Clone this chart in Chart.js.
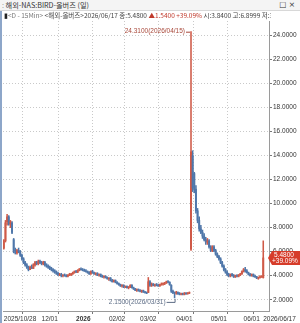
<!DOCTYPE html>
<html><head><meta charset="utf-8">
<script src="https://cdn.jsdelivr.net/npm/chart.js@4.4.1/dist/chart.umd.min.js"></script>
<style>
html,body{margin:0;padding:0;background:#fff;width:300px;height:323px;overflow:hidden;}
#wrap{position:relative;width:300px;height:323px;}
canvas{position:absolute;left:0;top:0;}
.hdr{position:absolute;left:0;white-space:nowrap;overflow:hidden;font-family:"Noto Sans CJK KR","Liberation Sans",sans-serif;color:#333;}
#t1{top:0;height:10px;width:300px;font-size:7.2px;line-height:10px;background:#f4f4f4;border-bottom:1px solid #d8d8d8;}
#t2{top:11px;height:9px;width:271px;font-size:6.5px;line-height:9px;color:#444;}
#lb{position:absolute;left:0;top:11px;width:2px;height:312px;background:#8da6c9;}
</style></head>
<body><div id="wrap">
<canvas id="c" width="300" height="323"></canvas>
<div id="t1" class="hdr"><span style="color:#999;margin-left:2px">:</span> 해외-NAS:BIRD-올버즈 (일)<span style="position:absolute;right:5px;top:0;font-family:'DejaVu Sans';font-size:7.5px">□ ×</span></div>
<div id="lb"></div>
<div id="t2" class="hdr"><span style="margin-left:4px;color:#222">▮</span><span style="color:#777">&lt;D - 15Min&gt;</span> &lt;해외-올버즈&gt;2026/06/17 종:5.4800 <span style="color:#c0392b">▲1.5400 +39.09%</span> 시:3.8400 고:6.8999 저:3.8000</div>
</div>
<script>
// trading-day index 0 = 2025/10/28
const tickIdx = [0, 23, 44, 64, 83, 105, 126, 146, 158];
const tickLabels = ['2025/10/28', '12/01', '2026', '02/02', '03/02', '04/01', '05/01', '06/01', '2026/06/17'];
const yTicks = [2, 4, 6, 8, 10, 12, 14, 16, 18, 20, 22, 24];

const open = [6.3,6.9,8.5,8.9,8.3,8.4,7.0,6.1,5.9,6.1,6.0,5.7,5.4,5.1,4.9,4.7,4.5,4.7,4.6,4.9,
5.1,5.0,5.2,5.1,5.0,5.1,4.9,4.8,4.7,4.6,4.5,4.4,4.3,4.2,4.1,4.1,4.0,4.05,4.0,3.95,
4.05,4.1,4.15,4.25,4.35,4.3,4.45,4.55,4.5,4.45,4.4,4.35,4.25,4.15,4.35,4.25,4.15,4.2,4.05,4.1,
3.95,3.9,3.95,3.85,3.75,3.8,3.6,3.5,3.6,3.45,3.35,3.25,3.15,3.2,3.05,3.1,3.0,3.05,3.2,3.0,
2.9,2.8,2.85,2.75,2.7,2.75,2.65,2.6,2.6,3.5,3.2,3.3,3.2,3.25,3.2,3.15,3.25,3.3,3.35,3.4,
3.5,3.45,3.2,2.7,2.6,2.55,2.6,2.5,2.45,2.5,2.45,2.55,2.5,2.55,6.2,14.0,12.5,11.2,9.4,8.6,
7.9,7.6,7.3,7.0,6.8,6.9,6.4,6.1,6.4,6.1,5.8,5.6,5.4,5.1,4.8,4.5,4.3,4.1,4.0,4.1,
4.0,3.9,4.0,3.95,4.05,4.15,4.35,4.5,4.4,4.25,4.1,4.0,4.1,3.95,3.9,3.8,3.85,3.9,3.84];
const high = [7.0,8.6,9.1,9.0,8.6,8.5,7.1,6.3,6.2,6.3,6.1,5.8,5.5,5.2,5.0,4.8,4.8,4.9,5.0,5.2,
5.2,5.3,5.3,5.2,5.2,5.2,5.0,4.9,4.8,4.7,4.6,4.5,4.4,4.3,4.2,4.2,4.1,4.15,4.1,4.1,
4.2,4.2,4.3,4.4,4.45,4.5,4.6,4.65,4.6,4.55,4.5,4.4,4.35,4.4,4.45,4.3,4.25,4.25,4.15,4.15,
4.05,4.0,4.0,3.9,3.85,3.85,3.7,3.65,3.65,3.5,3.4,3.3,3.25,3.25,3.15,3.15,3.1,3.25,3.25,3.05,
2.95,2.9,2.9,2.85,2.8,2.8,2.7,2.65,3.85,3.6,3.4,3.35,3.3,3.35,3.3,3.3,3.4,3.4,3.45,3.55,
3.6,3.5,3.25,2.8,2.65,2.7,2.65,2.6,2.55,2.55,2.6,2.6,2.6,2.65,24.31,14.4,12.6,11.5,9.6,8.9,
8.2,7.8,7.5,7.2,7.1,7.0,6.5,6.5,6.5,6.2,5.9,5.7,5.5,5.2,4.9,4.6,4.4,4.2,4.15,4.2,
4.1,4.05,4.1,4.1,4.2,4.4,4.6,4.7,4.5,4.3,4.2,4.15,4.15,4.05,3.95,3.9,4.0,4.0,6.8999];
const low = [6.2,6.8,8.2,8.2,8.0,7.5,5.9,5.8,5.8,5.9,5.6,5.3,5.0,4.8,4.6,4.4,4.5,4.6,4.6,4.8,
4.9,4.9,5.0,4.9,4.9,4.8,4.7,4.6,4.5,4.4,4.3,4.2,4.1,4.0,4.0,3.9,3.9,3.95,3.9,3.9,
4.0,4.0,4.1,4.2,4.25,4.25,4.4,4.45,4.4,4.35,4.3,4.2,4.1,4.1,4.2,4.1,4.05,4.0,3.95,3.9,
3.85,3.8,3.8,3.7,3.6,3.55,3.45,3.45,3.4,3.3,3.2,3.1,3.05,3.0,3.0,2.95,2.9,3.0,2.95,2.85,
2.75,2.7,2.7,2.65,2.6,2.6,2.55,2.5,2.6,3.1,3.1,3.15,3.1,3.15,3.1,3.1,3.2,3.2,3.25,3.35,
3.4,3.2,2.6,2.5,2.15,2.45,2.45,2.4,2.4,2.4,2.4,2.45,2.45,2.5,6.1,11.0,10.9,9.2,8.4,7.7,
7.5,7.1,6.9,6.6,6.6,6.3,6.0,6.0,6.0,5.7,5.5,5.3,5.0,4.7,4.4,4.2,4.0,3.9,3.9,3.95,
3.85,3.85,3.9,3.9,4.0,4.1,4.3,4.3,4.2,4.05,3.95,3.95,3.9,3.85,3.75,3.7,3.8,3.85,3.8];
const close = [6.9,8.4,8.9,8.3,8.5,7.6,6.1,5.9,6.1,6.0,5.7,5.4,5.1,4.9,4.7,4.5,4.7,4.6,4.9,5.1,
5.0,5.2,5.1,5.0,5.1,4.9,4.8,4.7,4.6,4.5,4.4,4.3,4.2,4.1,4.1,4.0,4.05,4.0,3.95,4.05,
4.1,4.15,4.25,4.35,4.3,4.45,4.55,4.5,4.45,4.4,4.35,4.25,4.15,4.35,4.25,4.15,4.2,4.05,4.1,3.95,
3.9,3.95,3.85,3.75,3.8,3.6,3.5,3.6,3.45,3.35,3.25,3.15,3.2,3.05,3.1,3.0,3.05,3.2,3.0,2.9,
2.8,2.85,2.75,2.7,2.75,2.65,2.6,2.55,3.5,3.2,3.3,3.2,3.25,3.2,3.15,3.25,3.3,3.35,3.4,3.5,
3.45,3.25,2.7,2.6,2.55,2.6,2.5,2.45,2.5,2.45,2.55,2.5,2.55,2.6,14.3,11.3,11.2,9.4,8.6,7.9,
7.6,7.3,7.0,6.8,6.9,6.4,6.1,6.4,6.1,5.8,5.6,5.4,5.1,4.8,4.5,4.3,4.1,4.0,4.1,4.0,
3.9,4.0,3.95,4.05,4.15,4.35,4.5,4.4,4.25,4.1,4.0,4.1,3.95,3.9,3.8,3.85,3.9,3.94,5.48];

const highNote = {idx: 114, text: '24.3100(2026/04/15)'};
const lowNote = {idx: 104, text: '2.1500(2026/03/31)'};
const lastTag = ['5.4800', '+39.09%'];

const UP = '#cf5a48', DOWN = '#4f77aa';
const idx = close.map((_, i) => i);
const col = idx.map(i => close[i] >= open[i] ? UP : DOWN);

const notes = {
  id: 'notes',
  afterDatasetsDraw(chart) {
    const {ctx, scales: {x, y}} = chart;
    ctx.save();
    ctx.font = '6.5px "Liberation Sans", Arial, sans-serif';
    ctx.textBaseline = 'middle';
    let px = x.getPixelForValue(highNote.idx), py = y.getPixelForValue(high[highNote.idx]);
    ctx.fillStyle = '#a8483a'; ctx.strokeStyle = '#a8483a'; ctx.lineWidth = 1;
    ctx.textAlign = 'right';
    ctx.fillText(highNote.text, px - 6, py);
    ctx.beginPath(); ctx.moveTo(px - 5, py + 0.5); ctx.lineTo(px - 1, py + 0.5); ctx.stroke();
    px = x.getPixelForValue(lowNote.idx); py = y.getPixelForValue(low[lowNote.idx]);
    const ly = py + 4;
    ctx.fillStyle = '#5d6d86'; ctx.strokeStyle = '#5d6d86';
    ctx.fillText(lowNote.text, px - 9, ly);
    ctx.beginPath(); ctx.moveTo(px - 8, ly + 0.5); ctx.lineTo(px + 0.5, ly + 0.5); ctx.lineTo(px + 0.5, py + 1); ctx.stroke();
    ctx.restore();
  },
  afterDraw(chart) {
    const {ctx, scales: {y}, chartArea} = chart;
    const last = close.length - 1;
    const py = Math.round(y.getPixelForValue(close[last]));
    const ax = chartArea.right;
    ctx.save();
    ctx.fillStyle = '#d63c2a';
    ctx.beginPath();
    ctx.moveTo(ax - 1, py); ctx.lineTo(ax + 3, py - 7); ctx.lineTo(300, py - 7);
    ctx.lineTo(300, py + 7); ctx.lineTo(ax + 3, py + 7); ctx.closePath(); ctx.fill();
    ctx.fillStyle = '#fff';
    ctx.font = '6.5px "Liberation Sans", Arial, sans-serif';
    ctx.textAlign = 'left'; ctx.textBaseline = 'middle';
    ctx.fillText(lastTag[0], ax + 5, py - 3);
    ctx.fillText(lastTag[1], ax + 3, py + 3.5);
    ctx.restore();
  }
};

new Chart(document.getElementById('c'), {
  type: 'bar',
  data: {
    datasets: [
      {data: idx.map(i => ({x: i, y: [low[i], high[i]]})), backgroundColor: col, barThickness: 0.9, grouped: false, order: 2},
      {data: idx.map(i => ({x: i, y: [open[i], close[i]]})), backgroundColor: col, barThickness: 1.3, grouped: false, order: 1}
    ]
  },
  options: {
    responsive: false, animation: false, events: [],
    layout: {padding: {left: 3, top: 21, right: 0, bottom: 0}},
    plugins: {legend: {display: false}, tooltip: {enabled: false}},
    scales: {
      x: {
        type: 'linear', min: -0.5, max: 161.5, offset: false,
        afterBuildTicks: s => { s.ticks = tickIdx.map(v => ({value: v})); },
        afterFit: s => { s.height = 12; },
        ticks: {
          autoSkip: false, maxRotation: 0, minRotation: 0, align: 'start', padding: 1, color: '#333',
          font: c => ({family: '"Liberation Sans", Arial, sans-serif', size: 6.5, weight: (c.tick && c.tick.value === 44) ? 'bold' : 'normal'}),
          callback: v => tickLabels[tickIdx.indexOf(v)]
        },
        grid: {
          color: c => (c.tick && (c.tick.value === 0 || c.tick.value === 158)) ? 'rgba(0,0,0,0)' : '#c9c9c9',
          tickColor: '#777', tickLength: 3, lineWidth: 1
        },
        border: {display: true, color: '#9a9a9a', dash: [1, 2]}
      },
      y: {
        position: 'right', min: 1.06, max: 25.2,
        afterBuildTicks: s => { s.ticks = yTicks.map(v => ({value: v})); },
        afterFit: s => { s.width = 31; },
        ticks: {color: '#333', padding: 1, font: {family: '"Liberation Sans", Arial, sans-serif', size: 6.5}, callback: v => Number(v).toFixed(4)},
        grid: {color: '#c9c9c9', tickColor: '#777', tickLength: 3},
        border: {display: true, color: '#9a9a9a', dash: [1, 2]}
      }
    }
  },
  plugins: [notes]
});
</script>
</body></html>
